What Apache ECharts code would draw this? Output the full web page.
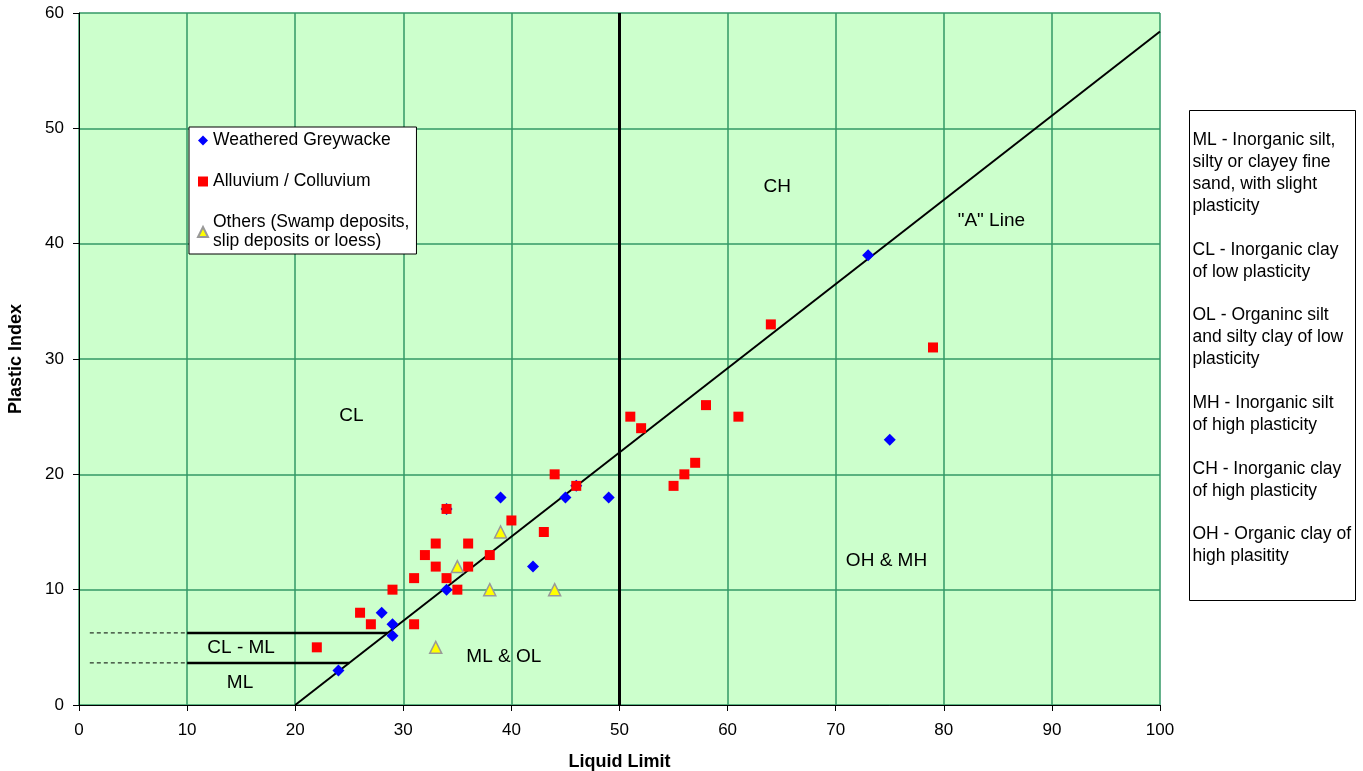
<!DOCTYPE html>
<html>
<head>
<meta charset="utf-8">
<script src="https://cdn.jsdelivr.net/npm/echarts@6/dist/echarts.min.js"></script>
<style>
  html, body { margin: 0; padding: 0; background: #fff; }
  #chart { width: 1363px; height: 771px; }
</style>
</head>
<body>
<div id="chart"></div>
<script>
// Plasticity chart: Liquid Limit vs Plastic Index
const greywacke = [[24,3],[28,8],[29,7],[29,6],[34,10],[34,17],[39,18],[42,12],[45,18],[46,19],[49,18],[73,39],[75,23]];
const alluvium = [[22,5],[26,8],[27,7],[29,10],[31,7],[31,11],[32,13],[33,14],[33,12],[34,17],[34,11],[35,10],[36,14],[36,12],[38,13],[40,16],[43,15],[44,20],[46,19],[51,25],[52,24],[55,19],[56,20],[57,21],[58,26],[61,25],[64,33],[79,31]];
const others = [[33,5],[35,12],[38,10],[39,15],[44,10]];

// Casagrande "A" line: PI = 0.73 (LL - 20)
const aLine = [[20,0],[100,58.4]];
const llDivide = [[50,0],[50,60]];
const clmlUpper = [[10,6.25],[28.56,6.25]];
const clmlLower = [[10,3.65],[25,3.65]];
const clmlUpperDash = [[1,6.25],[10,6.25]];
const clmlLowerDash = [[1,3.65],[10,3.65]];

const zoneLabels = [[64.6,44.9,'CH'],[84.4,42.0,'"A" Line'],[25.2,25.1,'CL'],[74.7,12.5,'OH & MH'],[39.3,4.2,'ML & OL'],[15.0,5.0,'CL - ML'],[14.9,1.9,'ML']];

const xTicks = [0,10,20,30,40,50,60,70,80,90,100];
const yTicks = [0,10,20,30,40,50,60];

const keyText = [
  'ML - Inorganic silt,', 'silty or clayey fine', 'sand, with slight', 'plasticity', '',
  'CL - Inorganic clay', 'of low plasticity', '',
  'OL - Organinc silt', 'and silty clay of low', 'plasticity', '',
  'MH - Inorganic silt', 'of high plasticity', '',
  'CH - Inorganic clay', 'of high plasticity', '',
  'OH - Organic clay of', 'high plasitity'
].join('\n');

const font = '"Liberation Sans", Arial, sans-serif';
const chart = echarts.init(document.getElementById('chart'));

function lineSeries(data, width, type) {
  return {
    type: 'line', data: data, symbol: 'none', silent: true, z: 2,
    lineStyle: { color: '#000', width: width, type: type || 'solid' },
    animation: false
  };
}

chart.setOption({
  animation: false,
  textStyle: { fontFamily: font },
  grid: {
    left: 79, right: 203, top: 13, bottom: 66,
    outerBoundsMode: 'none', containLabel: false,
    backgroundColor: '#ccffcc', show: true, borderWidth: 0
  },
  xAxis: {
    type: 'value', min: xTicks[0], max: xTicks[xTicks.length - 1], interval: 10,
    name: 'Liquid Limit', nameLocation: 'middle', nameGap: 48,
    nameTextStyle: { fontSize: 18, fontWeight: 'bold', color: '#000', fontFamily: font },
    axisLine: { show: true, lineStyle: { color: '#000', width: 1 } },
    axisTick: { show: true, length: 6, lineStyle: { color: '#000' } },
    axisLabel: { fontSize: 17, color: '#000', margin: 17, fontFamily: font },
    splitLine: { show: true, lineStyle: { color: '#339966', width: 1.5 } }
  },
  yAxis: {
    type: 'value', min: yTicks[0], max: yTicks[yTicks.length - 1], interval: 10,
    name: 'Plastic Index', nameLocation: 'middle', nameGap: 54,
    nameTextStyle: { fontSize: 18, fontWeight: 'bold', color: '#000', fontFamily: font },
    axisLine: { show: true, lineStyle: { color: '#000', width: 1 } },
    axisTick: { show: true, length: 6, lineStyle: { color: '#000' } },
    axisLabel: { fontSize: 17, color: '#000', margin: 15, fontFamily: font },
    splitLine: { show: true, lineStyle: { color: '#339966', width: 1.5 } }
  },
  legend: {
    orient: 'vertical', left: 189, top: 127,
    backgroundColor: '#fff', borderColor: '#000', borderWidth: 1,
    padding: [4, 7, 3, 8], itemGap: 22, itemWidth: 10, itemHeight: 10,
    textStyle: { fontSize: 17.5, color: '#000', fontFamily: font, lineHeight: 19 },
    data: ['Weathered Greywacke', 'Alluvium / Colluvium', 'Others (Swamp deposits,\nslip deposits or loess)']
  },
  graphic: [{
    type: 'group', left: 1189, top: 110,
    children: [
      { type: 'rect', shape: { x: 0, y: 0, width: 166, height: 490 }, style: { fill: '#fff', stroke: '#000', lineWidth: 1 } },
      { type: 'text', x: 3, y: 19, style: { text: keyText, fontSize: 17.5, lineHeight: 21.9, fill: '#000', fontFamily: font } }
    ]
  }],
  series: [
    lineSeries(aLine, 2),
    lineSeries(llDivide, 3),
    lineSeries(clmlUpper, 2.5),
    lineSeries(clmlLower, 2.5),
    lineSeries(clmlUpperDash, 1, [4, 3]),
    lineSeries(clmlLowerDash, 1, [4, 3]),
    {
      name: 'Weathered Greywacke', type: 'scatter', data: greywacke, z: 3,
      symbol: 'diamond', symbolSize: 12, itemStyle: { color: '#0000ff', opacity: 1 }
    },
    {
      name: 'Alluvium / Colluvium', type: 'scatter', data: alluvium, z: 4,
      symbol: 'rect', symbolSize: 10, itemStyle: { color: '#ff0000', opacity: 1 }
    },
    {
      name: 'Others (Swamp deposits,\nslip deposits or loess)', type: 'scatter', data: others, z: 5,
      symbol: 'triangle', symbolSize: 12,
      itemStyle: { color: '#ffff00', borderColor: '#999999', borderWidth: 1.5, opacity: 1 }
    },
    {
      type: 'scatter', data: zoneLabels, symbolSize: 0, silent: true, z: 6,
      label: {
        show: true, position: 'inside', fontSize: 19, color: '#000', fontFamily: font,
        textBorderWidth: 0, opacity: 1,
        formatter: p => p.data[2]
      }
    }
  ]
});
</script>
</body>
</html>
